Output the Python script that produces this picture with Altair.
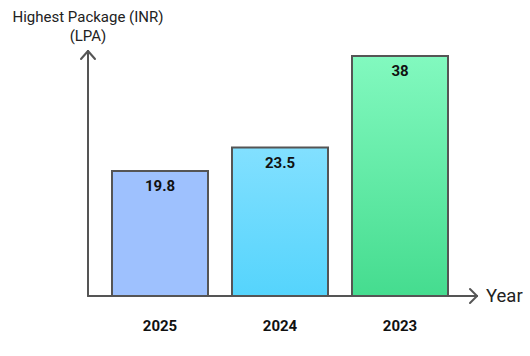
import altair as alt
import pandas as pd

years = ["2025", "2024", "2023"]
packages = [19.8, 23.5, 38]
labels = ["19.8", "23.5", "38"]

df = pd.DataFrame({"year": years, "pkg": packages, "label": labels})

AX = "#555555"
FONT = "Roboto"

x_enc = alt.X("year:N", sort=years, axis=None,
              scale=alt.Scale(paddingInner=0.2, paddingOuter=0.2))
y_scale = alt.Scale(domain=[0, 40.53], nice=False, zero=True)

def grad(top, bottom):
    return {"gradient": "linear", "x1": 0, "y1": 0, "x2": 0, "y2": 1,
            "stops": [{"offset": 0, "color": top}, {"offset": 1, "color": bottom}]}

fills = [grad("#9ec1fe", "#9ec1fe"), grad("#82e0ff", "#55d4fc"), grad("#82f9bf", "#45dc8f")]

base = alt.Chart(df)
bars = []
for yr, f in zip(years, fills):
    bars.append(
        base.transform_filter(alt.datum.year == yr)
        .mark_bar(fill=f, stroke=AX, strokeWidth=2, cornerRadius=0)
        .encode(x=x_enc, y=alt.Y("pkg:Q", scale=y_scale, axis=None))
    )

vals = base.mark_text(font=FONT, fontSize=15, fontWeight="bold", color="#111111",
                      baseline="middle", dy=15).encode(
    x=x_enc, y=alt.Y("pkg:Q", scale=y_scale, axis=None), text="label:N")

yrlab = base.mark_text(font=FONT, fontSize=15, fontWeight="bold", color="#111111",
                       baseline="middle").encode(
    x=x_enc, y=alt.value(286), text="year:N")

one = alt.Data(values=[{"a": 1}])

def seg(x1, y1, x2, y2):
    return alt.Chart(one).mark_rule(color=AX, strokeWidth=2, strokeCap="round").encode(
        x=alt.value(x1), x2=alt.value(x2), y=alt.value(y1), y2=alt.value(y2))

# plot area origin: left=88, top=40; height 256 -> baseline at 256
segs = [
    seg(0, 256, 0, 11),      # y axis
    seg(0, 11, -7, 19),
    seg(0, 11, 7, 19),
    seg(0, 256, 389, 256),   # x axis
    seg(389, 256, 382, 249),
    seg(389, 256, 382, 263),
]

def txt(s, x, y, size=15, align="center", color="#222222"):
    return alt.Chart(one).mark_text(font=FONT, fontSize=size, align=align,
                                    baseline="middle", color=color).encode(
        x=alt.value(x), y=alt.value(y), text=alt.value(s))

texts = [
    txt("Highest Package (INR)", 0, -23),
    txt("(LPA)", 0, -4),
    txt("Year", 398, 256, size=18.5, align="left"),
]

chart = alt.layer(*bars, vals, yrlab, *segs, *texts).properties(
    width=384, height=256,
    padding={"left": 88, "top": 40, "right": 58, "bottom": 60},
    autosize=alt.AutoSizeParams(type="none"),
).configure_view(stroke=None)

chart.save("out.html", embed_options={"renderer": "svg", "actions": False})
